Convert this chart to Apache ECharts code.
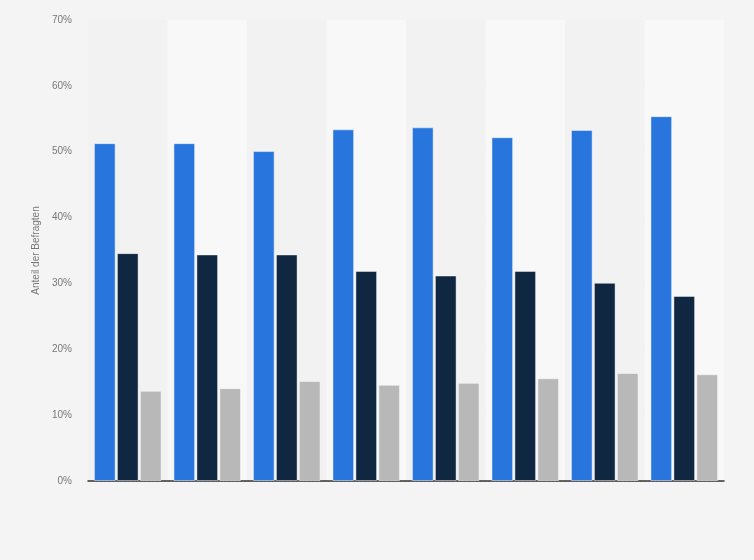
<!DOCTYPE html>
<html>
<head>
<meta charset="utf-8">
<script src="https://cdn.jsdelivr.net/npm/echarts@6/dist/echarts.min.js"></script>
<style>
  html, body { margin: 0; padding: 0; background: #f4f4f4; }
  #chart { width: 754px; height: 560px; }
</style>
</head>
<body>
<div id="chart"></div>
<script>
// ==============================================================
// Grouped bar chart
// ==============================================================
var categories = ['1', '2', '3', '4', '5', '6', '7', '8'];
var seriesA = [51.3, 51.3, 50.1, 53.4, 53.7, 52.2, 53.3, 55.4];
var seriesB = [34.6, 34.4, 34.4, 31.9, 31.2, 31.9, 30.1, 28.1];
var seriesC = [13.7, 14.1, 15.2, 14.6, 14.9, 15.6, 16.4, 16.2];
var yTicks = [0, 10, 20, 30, 40, 50, 60, 70];

var chart = echarts.init(document.getElementById('chart'));

function barSeries(name, data, color) {
    return {
        name: name,
        type: 'bar',
        data: data,
        barGap: '6%',
        barCategoryGap: '15%',
        itemStyle: { color: color, borderColor: 'rgba(255,255,255,0.45)', borderWidth: 1 }
    };
}

var option = {
    backgroundColor: '#f4f4f4',
    animation: false,
    grid: { left: 88, right: 30, top: 20, bottom: 79 },
    xAxis: {
        type: 'category',
        data: categories,
        axisLine: { lineStyle: { color: '#333', width: 1.5 } },
        axisTick: { show: false },
        axisLabel: { show: false },
        splitArea: { show: true, areaStyle: { color: ['#f2f2f2', '#f8f8f8'] } }
    },
    yAxis: {
        type: 'value',
        min: yTicks[0],
        max: yTicks[yTicks.length - 1],
        interval: 10,
        name: 'Anteil der Befragten',
        nameLocation: 'middle',
        nameGap: 43,
        nameTextStyle: { color: '#777', fontSize: 10, fontFamily: 'Liberation Sans' },
        axisLine: { show: false },
        axisTick: { show: false },
        axisLabel: { formatter: '{value}%', color: '#777', fontSize: 10, margin: 16, fontFamily: 'Liberation Sans' },
        splitLine: { lineStyle: { color: '#d4d4d4', type: [2, 2] } }
    },
    series: [
        barSeries('A', seriesA, '#2876dd'),
        barSeries('B', seriesB, '#0f2740'),
        barSeries('C', seriesC, '#b8b8b8')
    ]
};

chart.setOption(option, true);
</script>
</body>
</html>
